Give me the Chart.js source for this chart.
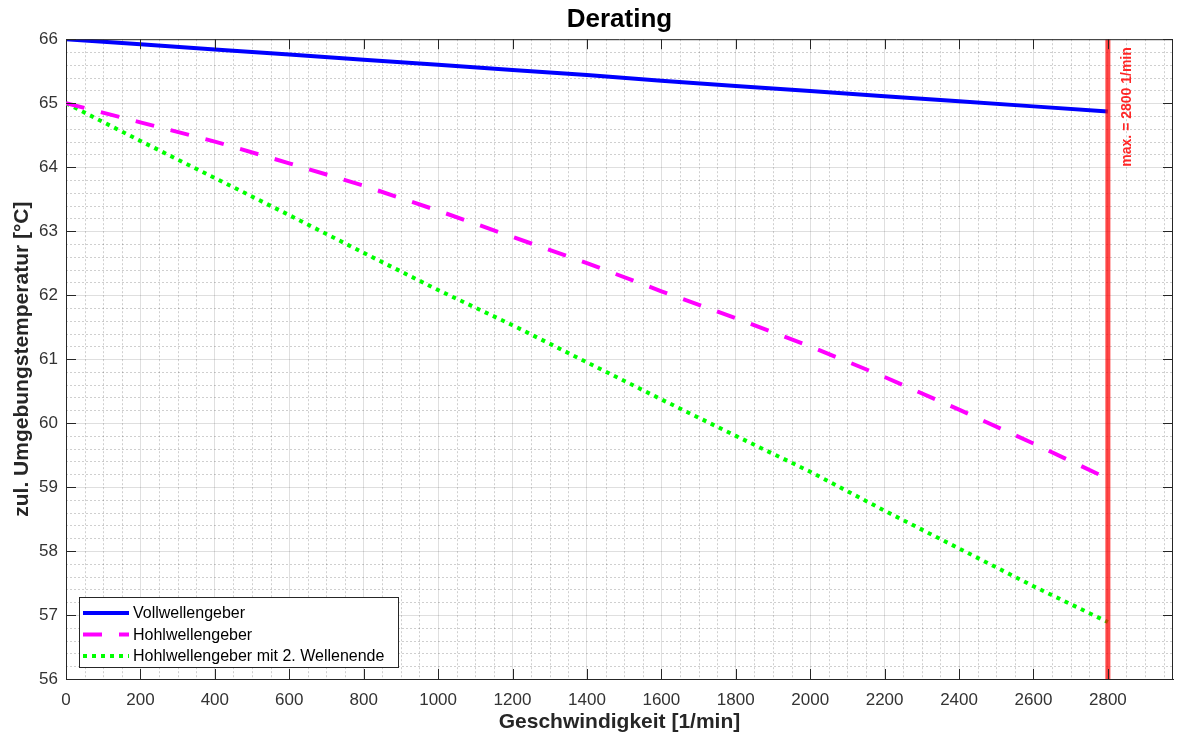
<!DOCTYPE html>
<html>
<head>
<meta charset="utf-8">
<script src="https://cdn.jsdelivr.net/npm/chart.js@4.4.1/dist/chart.umd.min.js"></script>
<style>
  body { margin: 0; background: #fff; }
  #wrap { width: 1180px; height: 740px; }
</style>
</head>
<body>
<div id="wrap"><canvas id="derating"></canvas></div>
<script>
// speed [1/min]
const speeds = [0, 200, 400, 600, 800, 1000, 1200, 1400, 1600, 1800, 2000, 2200, 2400, 2600, 2800];

// allowed ambient temperature [°C]
const vollwelle = [66.00, 65.92, 65.84, 65.76, 65.68, 65.60, 65.52, 65.44, 65.35, 65.27, 65.19, 65.11, 65.03, 64.95, 64.87];
const hohlwelle = [65.00, 64.70, 64.40, 64.06, 63.71, 63.32, 62.91, 62.50, 62.06, 61.64, 61.20, 60.72, 60.21, 59.68, 59.13];
const hohlwelle2 = [65.00, 64.41, 63.83, 63.25, 62.66, 62.08, 61.53, 60.95, 60.37, 59.80, 59.24, 58.63, 58.04, 57.45, 56.89];

const seriesLabels = ['Vollwellengeber', 'Hohlwellengeber', 'Hohlwellengeber mit 2. Wellenende'];

// x tick labels
const xTickValues = [0, 200, 400, 600, 800, 1000, 1200, 1400, 1600, 1800, 2000, 2200, 2400, 2600, 2800];

const maxSpeed = 2800;
const maxLabel = 'max. = 2800 1/min';

const xTicks = { min: 0, max: 2975, step: 200, minor: 50 };
const yTicks = { min: 56, max: 66, step: 1, minor: 0.2 };

const axisColor = '#262626';
const fontName = '"Liberation Sans", Arial, Helvetica, sans-serif';

function toPoints(values) {
  return speeds.map((s, i) => ({ x: s, y: values[i] }));
}

// center the title over the axes, not over the canvas
const titleOverAxes = {
  id: 'titleOverAxes',
  afterLayout(chart) {
    const t = chart.titleBlock;
    if (t) {
      t.left = chart.chartArea.left;
      t.right = chart.chartArea.right;
      t.width = t.right - t.left;
    }
  },
};

// dotted minor grid like matlab's "grid minor"
const minorGrid = {
  id: 'minorGrid',
  beforeDatasetsDraw(chart) {
    const { ctx, chartArea: { top, bottom, left, right }, scales: { x, y } } = chart;
    ctx.save();
    ctx.strokeStyle = 'rgba(38, 38, 38, 0.22)';
    ctx.lineWidth = 1;
    ctx.setLineDash([2, 2]);
    const nx = Math.floor((xTicks.max - xTicks.min) / xTicks.minor);
    for (let i = 1; i <= nx; i++) {
      if (i % 4 === 0) continue;
      const v = xTicks.min + i * xTicks.minor;
      const px = Math.round(x.getPixelForValue(v)) + 0.5;
      ctx.beginPath();
      ctx.moveTo(px, top);
      ctx.lineTo(px, bottom);
      ctx.stroke();
    }
    const ny = Math.round((yTicks.max - yTicks.min) / yTicks.minor);
    for (let i = 1; i < ny; i++) {
      if (i % 5 === 0) continue;
      const v = yTicks.min + i * yTicks.minor;
      const py = Math.round(y.getPixelForValue(v)) + 0.5;
      ctx.beginPath();
      ctx.moveTo(left, py);
      ctx.lineTo(right, py);
      ctx.stroke();
    }
    ctx.restore();
  },
};

// box, inward ticks, in-axes legend and the max label
const boxAndLegend = {
  id: 'boxAndLegend',
  afterDatasetsDraw(chart) {
    const { ctx, chartArea: { top, bottom, left, right }, scales: { x, y } } = chart;
    ctx.save();

    // box
    ctx.strokeStyle = axisColor;
    ctx.lineWidth = 1;
    ctx.beginPath();
    ctx.moveTo(left, top + 0.5);
    ctx.lineTo(right, top + 0.5);
    ctx.moveTo(right - 0.5, top);
    ctx.lineTo(right - 0.5, bottom);
    ctx.stroke();

    // ticks pointing inwards
    const tl = 10;
    ctx.beginPath();
    x.ticks.forEach((t) => {
      const px = Math.round(x.getPixelForValue(t.value)) + 0.5;
      ctx.moveTo(px, bottom);
      ctx.lineTo(px, bottom - tl);
      ctx.moveTo(px, top);
      ctx.lineTo(px, top + tl);
    });
    y.ticks.forEach((t) => {
      const py = Math.round(y.getPixelForValue(t.value)) + 0.5;
      ctx.moveTo(left, py);
      ctx.lineTo(left + tl, py);
      ctx.moveTo(right, py);
      ctx.lineTo(right - tl, py);
    });
    ctx.stroke();

    // rotated label next to the red limit line
    const lx = x.getPixelForValue(maxSpeed) + 19;
    ctx.translate(lx, top + 8);
    ctx.rotate(-Math.PI / 2);
    ctx.fillStyle = '#ff2626';
    ctx.font = 'bold 14px ' + fontName;
    ctx.textAlign = 'right';
    ctx.textBaseline = 'middle';
    ctx.fillText(maxLabel, 0, 0);
    ctx.setTransform(1, 0, 0, 1, 0, 0);

    // legend box in the lower left corner
    const items = chart.data.datasets.filter((d) => d.label);
    const boxL = 79.5, boxT = 597.5, boxW = 319, boxH = 70;
    ctx.fillStyle = '#fff';
    ctx.fillRect(boxL, boxT, boxW, boxH);
    ctx.strokeStyle = axisColor;
    ctx.lineWidth = 1;
    ctx.strokeRect(boxL, boxT, boxW, boxH);

    ctx.font = '16px ' + fontName;
    ctx.textAlign = 'left';
    ctx.textBaseline = 'middle';
    items.forEach((d, i) => {
      const ly = 613 + i * 21.5;
      ctx.beginPath();
      ctx.strokeStyle = d.borderColor;
      ctx.lineWidth = d.borderWidth;
      ctx.setLineDash(d.borderDash || []);
      ctx.moveTo(83, ly);
      ctx.lineTo(129, ly);
      ctx.stroke();
      ctx.setLineDash([]);
      ctx.fillStyle = '#000';
      ctx.fillText(d.label, 133, ly + 1);
    });

    ctx.restore();
  },
};

const config = {
  type: 'line',
  data: {
    datasets: [
      {
        label: seriesLabels[0],
        data: toPoints(vollwelle),
        borderColor: '#0000ff',
        borderWidth: 4,
        order: 1,
      },
      {
        label: seriesLabels[1],
        data: toPoints(hohlwelle),
        borderColor: '#ff00ff',
        borderWidth: 4,
        borderDash: [19, 17],
        order: 2,
      },
      {
        label: seriesLabels[2],
        data: toPoints(hohlwelle2),
        borderColor: '#00ff00',
        borderWidth: 4,
        borderDash: [4, 5],
        order: 3,
      },
      {
        label: '',
        data: [
          { x: maxSpeed, y: yTicks.min },
          { x: maxSpeed, y: yTicks.max },
        ],
        borderColor: 'rgba(255, 0, 0, 0.72)',
        borderWidth: 5,
        order: 0,
      },
    ],
  },
  options: {
    responsive: true,
    maintainAspectRatio: false,
    animation: false,
    events: [],
    elements: {
      point: { radius: 0 },
      line: { tension: 0, borderCapStyle: 'butt' },
    },
    layout: { padding: { left: 0, right: 7, top: 0, bottom: 0 } },
    plugins: {
      legend: { display: false },
      tooltip: { enabled: false },
      title: {
        display: true,
        text: 'Derating',
        color: '#000',
        font: { family: fontName, size: 26, weight: 'bold' },
        padding: { top: 4, bottom: 4 },
      },
    },
    scales: {
      x: {
        type: 'linear',
        min: xTicks.min,
        max: xTicks.max,
        afterBuildTicks(scale) {
          scale.ticks = xTickValues.map((v) => ({ value: v }));
        },
        ticks: {
          maxRotation: 0,
          autoSkip: false,
          color: '#333',
          padding: 11,
          font: { family: fontName, size: 17 },
          callback: (v) => String(v),
        },
        grid: { color: 'rgba(38, 38, 38, 0.15)', drawTicks: false },
        border: { color: axisColor, width: 1 },
        title: {
          display: true,
          text: 'Geschwindigkeit [1/min]',
          color: axisColor,
          font: { family: fontName, size: 21, weight: 'bold' },
          padding: { top: 0, bottom: 5 },
        },
        afterFit(scale) {
          scale.height = 61;
          scale.paddingRight = 0;
        },
      },
      y: {
        type: 'linear',
        min: yTicks.min,
        max: yTicks.max,
        ticks: {
          stepSize: yTicks.step,
          color: '#333',
          padding: 8,
          font: { family: fontName, size: 17 },
        },
        grid: { color: 'rgba(38, 38, 38, 0.15)', drawTicks: false },
        border: { color: axisColor, width: 1 },
        title: {
          display: true,
          text: 'zul. Umgebungstemperatur [°C]',
          color: axisColor,
          font: { family: fontName, size: 21, weight: 'bold' },
          padding: { top: 10, bottom: 0 },
        },
        afterFit(scale) {
          scale.width = 66;
        },
      },
    },
  },
  plugins: [titleOverAxes, minorGrid, boxAndLegend],
};

const myChart = new Chart(document.getElementById('derating'), config);
</script>
</body>
</html>
